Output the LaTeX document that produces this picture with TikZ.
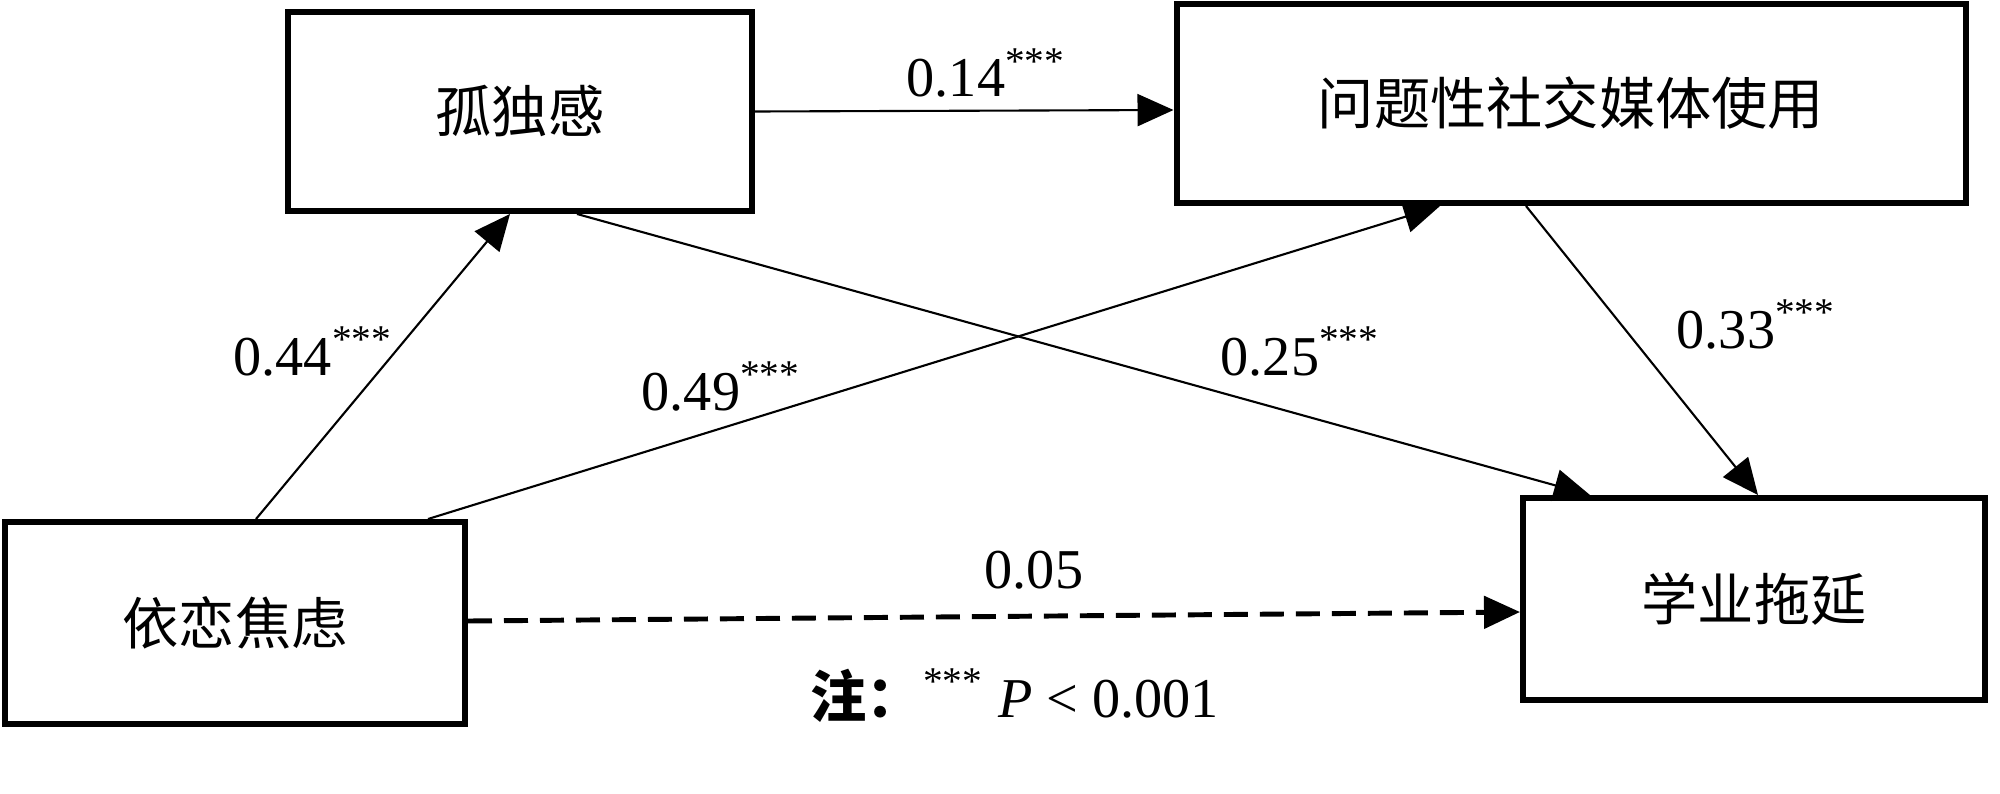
\documentclass[tikz,border=0pt]{standalone}
\usepackage{fontspec}
\setmainfont{Liberation Serif}
\newfontfamily\cjk{Noto Sans CJK SC}
\usetikzlibrary{arrows.meta}

\begin{document}
\begin{tikzpicture}[
  box/.style={draw, line width=1.7pt, inner sep=0pt, font=\cjk\fontsize{16}{19}\selectfont},
  link/.style={line width=0.6pt, -{Triangle[length=0.36cm,width=0.32cm]}},
  coef/.style={anchor=base west, inner sep=0pt, font=\fontsize{16}{19}\selectfont}
]
\useasboundingbox (0,0) rectangle (20,7.93);

% variables
\node (lonely) [box, minimum width=4.64cm, minimum height=1.99cm] at (5.20,6.815) {孤独感};
\node (psmu) [box, minimum width=7.89cm, minimum height=1.99cm] at (15.71,6.895) {问题性社交媒体使用};
\node (anx) [box, minimum width=4.60cm, minimum height=2.02cm] at (2.35,1.70) {依恋焦虑};
\node (proc) [box, minimum width=4.62cm, minimum height=2.02cm] at (17.54,1.94) {学业拖延};

% paths
\draw [link] ([xshift=0.21cm]anx.north) -- ([xshift=-0.10cm]lonely.south);
\draw [link] ([xshift=1.93cm]anx.north) -- ([xshift=-1.31cm]psmu.south);
\draw [link] ([xshift=0.57cm]lonely.south) -- ([xshift=-1.64cm]proc.north);
\draw [link] ([xshift=-0.45cm]psmu.south) -- ([xshift=0.04cm]proc.north);
\draw [link] (lonely.east) -- ([yshift=-0.065cm]psmu.west);
\draw [link, line width=1.4pt, dash pattern=on 0.24cm off 0.12cm] ([yshift=0.02cm]anx.east) -- ([yshift=-0.13cm]proc.west);

% coefficients
\node (c14) [coef] at (9.06,6.96) {0.14\textsuperscript{***}};
\node (c44) [coef] at (2.33,4.18) {0.44\textsuperscript{***}};
\node (c49) [coef] at (6.41,3.83) {0.49\textsuperscript{***}};
\node (c25) [coef] at (12.20,4.18) {0.25\textsuperscript{***}};
\node (c33) [coef] at (16.76,4.45) {0.33\textsuperscript{***}};
\node (c05) [coef] at (9.84,2.05) {0.05};
\node (note) [coef] at (8.10,0.76) {{\cjk\bfseries 注：}\textsuperscript{***} \textit{P} < 0.001};

\end{tikzpicture}
\end{document}
